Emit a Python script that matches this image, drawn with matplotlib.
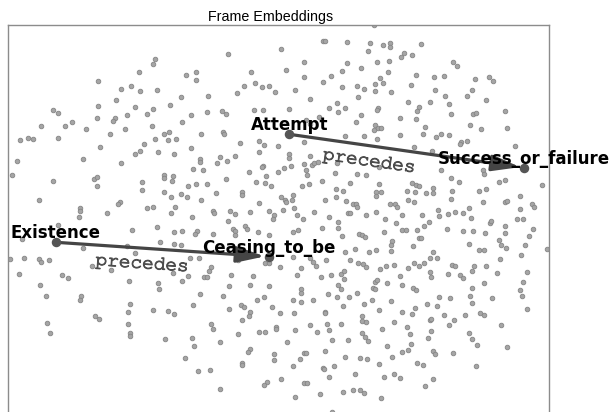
import math

import matplotlib
matplotlib.use("Agg")
import matplotlib.pyplot as plt
import matplotlib.patheffects as pe
from matplotlib import font_manager

# 2-D frame embeddings (x, y), y grows downwards as in the original projection
frame_points = [
    (228.3, 54.3), (281, 49.3), (303.7, 62), (155.3, 59.3), (152.7, 64), (139, 72.3), (98, 81),
    (185.7, 75), (196.3, 72), (195.7, 80.3), (250.7, 72.3), (286.3, 70), (304.3, 77.3),
    (120.7, 89.3), (131.3, 86), (140, 90.7), (157, 90), (181, 96.7), (208, 95.7), (237.3, 92.7),
    (244, 85.7), (254.7, 83), (262.3, 87), (269, 86.3), (274.7, 92.3), (295, 90), (116, 99.7),
    (97.7, 106), (135, 106.7), (153, 108.7), (169.7, 105.3), (53.3, 110), (58.3, 112.7),
    (288.7, 108.7), (254, 110.3), (263.3, 110), (127, 115), (115.3, 118), (112.7, 120.7),
    (97, 118.3), (146.7, 114.3), (182.3, 122), (190.7, 115.3), (207.3, 112.3), (221.7, 111),
    (225.7, 114.3), (40.7, 126), (65.3, 126), (72.3, 122.3), (86.3, 129.3), (125, 129),
    (151.7, 125.7), (110.3, 133.7), (57.7, 137.7), (20.3, 140.3), (28.3, 138.3), (33, 139.3),
    (164.3, 134.3), (169.3, 131.7), (155, 139), (175.7, 138.7), (201, 133.7), (223.3, 132.3),
    (224.3, 134.3), (144.3, 143.7), (140, 150.7), (135.3, 153.7), (100.3, 147), (167.7, 140.3),
    (191.3, 147.7), (240, 142.7), (259, 141), (263.7, 144.7), (277.7, 145.7), (304.3, 141.7),
    (158, 152.3), (174.3, 154.3), (259, 152.3), (288.7, 154), (289, 158), (216.7, 162.7),
    (220.3, 157), (227.3, 161.3), (235.3, 155.7), (200, 159.3), (200.3, 162.3), (203.3, 170.3),
    (193.3, 169), (83.3, 158.7), (17, 161), (120.7, 163), (263.3, 166), (262.3, 167.3),
    (284.3, 167.7), (291.3, 166), (277.7, 172.3), (304.3, 164.3), (249.3, 172.3), (266.3, 175.7),
    (12, 175), (164, 174.7), (164.3, 177.7), (173.3, 175.7), (171.7, 180.7), (52.7, 181),
    (94, 178.7), (97.3, 177.3), (97.3, 186.3), (142.3, 182), (142.3, 190.3), (225.7, 179),
    (255.7, 181.7), (265.3, 182.7), (270.7, 186.3), (188.3, 186), (195.7, 183.7), (207, 184.3),
    (302, 186), (38.7, 200.3), (164.3, 192.3), (170.7, 196.7), (181, 194), (186.7, 197.3),
    (200.7, 199.7), (215.7, 193.3), (242, 191.7), (242.3, 194.7), (259.3, 203), (281, 197.3),
    (285, 200), (286, 201.7), (292, 200.3), (292.7, 195), (119.7, 202), (118.3, 204),
    (373.7, 25), (322.7, 40.7), (325, 40.7), (346.7, 41.7), (370.3, 43.3), (383.3, 45),
    (390, 42.7), (390, 46.7), (421.3, 44), (367.7, 51), (403.7, 53.3), (401.3, 57.3), (412.3, 55),
    (377, 61.7), (388.7, 61), (346.7, 63.3), (452.7, 62.3), (456.7, 66.3), (361.3, 68.3),
    (341.7, 71), (387.7, 72.3), (330.7, 76), (380, 78.3), (383, 82.7), (375, 84), (416.3, 75),
    (434, 77), (444, 76.3), (489.3, 77.3), (493.3, 81.3), (475, 79.3), (323, 82), (341.7, 87.3),
    (357.3, 86), (364.3, 89.3), (375, 90.7), (390.7, 92), (411.3, 84.7), (434.7, 90), (472, 89.7),
    (358.3, 96.7), (445.3, 95.7), (467.3, 96), (486, 100.3), (310, 98.7), (336.7, 103.3),
    (329, 108), (338, 112.3), (345.3, 108), (378, 107.7), (377, 110), (408.3, 102.3),
    (419.3, 107.3), (416.7, 111), (430, 101.7), (449, 104), (504.7, 111.3), (472.7, 113.7),
    (476, 112.7), (451.3, 114), (361, 115.3), (356, 121.7), (400, 117.7), (416, 119),
    (319.3, 116.7), (306, 120), (310.3, 124.3), (375, 125.3), (374, 130), (378.3, 127.7),
    (381.3, 127.7), (425, 127), (469.7, 125), (481, 129.3), (507.3, 127.7), (345.3, 135.7),
    (364.3, 135.7), (376.7, 138.7), (399.7, 135.3), (423, 134), (435.7, 137), (440.7, 133.7),
    (448.7, 134.7), (461.3, 142.3), (466.7, 141.3), (460, 144), (515.3, 146.3), (413.7, 147),
    (432, 151), (310, 155.7), (312, 164.7), (314.3, 163.3), (306, 170), (307, 175), (318.3, 162),
    (337, 163), (335.3, 173.3), (357, 173.7), (366, 175.3), (379.3, 166.7), (441, 170.3),
    (451, 178.3), (459.3, 181.7), (482.7, 170), (483.7, 174), (498.7, 182), (504.7, 180.3),
    (321.7, 181), (309.3, 184.3), (349.7, 183), (379.3, 183.7), (411.7, 182.7), (415.7, 185),
    (419, 186), (415.3, 191.7), (406.7, 191), (425.7, 192.7), (432.7, 188), (432.7, 192.7),
    (336, 189), (343.3, 191.3), (375.7, 192), (375.7, 196), (381, 192), (542.3, 185.3),
    (519.7, 195.7), (479.3, 191.3), (486, 189.3), (451.7, 190.7), (325.3, 200), (336, 196.7),
    (346.3, 201.3), (353, 204.3), (356, 204.3), (389.7, 204), (395, 204), (407.7, 200),
    (413.7, 202), (451.3, 198.7), (483.3, 202.3), (505, 202.3), (507.3, 201), (532, 204),
    (79.7, 207.7), (79.7, 210.7), (79, 217), (107.3, 213.3), (146.7, 208.3), (152.7, 207),
    (170.7, 212.7), (174.7, 207.3), (192.3, 216.7), (213.3, 210.7), (214.3, 213), (230, 211.3),
    (235.3, 213.7), (228.3, 221.3), (249.7, 211.7), (269, 211), (274, 215.3), (272.7, 218.7),
    (283.3, 210), (294.3, 207.7), (296.7, 215), (303.3, 218.7), (132, 230), (156.7, 227),
    (174, 232.3), (182.3, 231.3), (196.7, 231.3), (195.3, 233.7), (212.7, 234.3), (233.3, 229.3),
    (235, 231.3), (235.3, 234.7), (245.3, 225.7), (247.3, 228.7), (257.7, 232), (269, 235),
    (293.3, 231.7), (298.3, 230), (57.7, 225), (22, 239), (82.7, 247.7), (127.3, 245.7),
    (160.3, 242), (174, 243.7), (135, 253), (181, 245.3), (9.7, 258.7), (24.3, 257.7),
    (39, 259.3), (41.3, 262), (49.3, 259.7), (199, 258.3), (190, 258), (92, 266.3), (110.7, 270),
    (211, 267.3), (208.7, 271.3), (204.3, 277), (207.3, 277.3), (237.7, 260.3), (265.3, 263.3),
    (268.7, 263.3), (279.7, 267), (292.7, 257), (301.3, 268), (19, 273.7), (61.7, 275),
    (67.7, 278), (172.7, 272.7), (188, 276), (182.3, 281.3), (158.3, 282.7), (158.7, 289.3),
    (128.7, 281.3), (231.3, 275.3), (252.7, 276), (297.3, 275.3), (228.7, 286.3), (249.7, 285.3),
    (269.3, 286), (301, 288.7), (301, 293.3), (39.7, 284.7), (46.3, 296), (81, 296), (79.7, 300),
    (200, 293.7), (223, 296), (256.7, 300.3), (264, 296.7), (292.7, 300.3), (301, 302),
    (130, 303.7), (193.3, 305.3), (240.7, 305), (244, 306.7), (271.7, 306.7), (94.7, 316),
    (99, 318.7), (128.3, 312), (153, 310.3), (168.3, 311.3), (173.7, 314.3), (229.3, 309.3),
    (249.7, 311.7), (249, 316), (242, 320.3), (280, 313.3), (294, 312.7), (47.3, 322.7),
    (49.7, 332.7), (128.3, 323.7), (211.3, 324.3), (212.7, 329), (259.3, 332), (265, 332),
    (276.3, 326.7), (276.3, 328.7), (295, 329.7), (238.3, 334), (130.3, 333.3), (129.7, 336),
    (164.7, 339), (191.7, 338.3), (193.7, 346.3), (220.3, 342), (286.7, 341.7), (250, 348.7),
    (248, 352.3), (274.3, 353.7), (273.7, 359.7), (304.3, 353), (185.3, 358.3), (299.7, 359.3),
    (242.3, 362.7), (241.7, 365.3), (293, 366), (198.3, 370.7), (210.3, 370), (267, 381.7),
    (264.3, 385), (280.7, 379.3), (304.3, 383.3), (219.7, 388.7), (295.3, 397.3),
    (313.7, 212), (328.7, 217.3), (338.3, 221.7), (338.3, 228.3), (347.7, 213.3), (350.3, 213),
    (357, 207), (366.3, 215), (375.7, 212.3), (397, 207), (385.3, 218.7), (396, 222.7),
    (401.7, 215.3), (422, 215.3), (429.3, 221.7), (424.3, 226.3), (417.3, 229.7), (438.3, 210.3),
    (439, 215.7), (448.3, 213.7), (454.7, 212.3), (462.7, 212.7), (469.3, 207.7), (471.3, 217.7),
    (489.7, 223.3), (491, 220.7), (505.3, 226.3), (505.3, 232.7), (517.3, 218.7), (523.3, 219.3),
    (519.7, 208.7), (534.3, 207.3), (533.3, 229), (528.7, 236.3), (525.3, 244.7), (521, 254.7),
    (547, 249.3), (322.3, 228), (341.7, 236), (359.3, 234), (361.7, 235), (365, 237.3),
    (384, 232.3), (402, 230), (405.7, 229.7), (391.7, 241.3), (391, 245.3), (391, 251),
    (419, 237.7), (420.7, 238.3), (412.7, 245.7), (433.3, 251.7), (430.3, 258.3), (437, 257.7),
    (447, 229), (463, 231.3), (473.3, 231.3), (484.7, 232.7), (468.7, 243.7), (478.7, 250),
    (484.3, 250.3), (498.7, 239.7), (501, 245), (506, 248), (500, 258.7), (310.3, 258),
    (313, 261.7), (315.7, 266), (326, 260), (345.3, 252.3), (355.3, 249.3), (350.3, 260),
    (369, 252), (376.3, 249.7), (358.3, 262.7), (362.7, 263.7), (366.3, 266.7), (380, 268.7),
    (385.7, 266), (394.3, 264.7), (408, 267.7), (414, 262.7), (419, 266), (424.3, 263.3),
    (430.3, 272), (431.3, 277), (448.3, 274.3), (452, 264.7), (455.3, 265.7), (459.7, 275),
    (463, 277.7), (471.7, 271), (474, 265.7), (486.3, 266), (497, 272.7), (321, 277.3),
    (330.7, 274.7), (340.7, 273.7), (343.7, 271.3), (344, 278.7), (338.3, 285.3), (341.3, 288.7),
    (328, 294), (313.3, 300.3), (337, 296.7), (349, 297.3), (357, 292.7), (343.3, 305.7),
    (363.7, 304.3), (371.7, 300.3), (374.7, 282), (377, 280), (372.7, 288.3), (375.3, 289),
    (387, 283), (399.7, 276), (401.7, 284.7), (413.3, 288), (416, 290.3), (391.3, 301.3),
    (378.7, 310), (439, 297), (449.7, 298), (469.7, 295.7), (472.3, 287.7), (472.3, 303.3),
    (483.7, 283.3), (491.7, 298.3), (519.7, 289.7), (522.7, 282), (522.3, 296.3), (527, 272.3),
    (527, 309.3), (426.7, 304.3), (436.7, 306.3), (415.3, 308), (412.3, 314), (401.7, 312),
    (325.3, 312), (325, 313), (310.3, 325), (327.3, 323.7), (329, 330.3), (316.7, 331.7),
    (341, 324.3), (332.3, 339.7), (348.3, 339.7), (361.7, 316), (361.7, 320.7), (366.3, 321.7),
    (361.7, 333.3), (364.7, 337), (368, 340.7), (382.3, 329.3), (394, 322), (387.3, 346),
    (406.7, 327), (410.3, 334), (411.3, 344), (408, 350.3), (402, 352), (392, 356.7),
    (429.7, 319.7), (431.3, 318.7), (431, 330.7), (427.7, 338.3), (433, 351.3), (434.7, 354.3),
    (444, 315), (448.7, 325.3), (453.7, 320.3), (464.7, 314.7), (480, 313.3), (483.7, 315.3),
    (468.7, 333.3), (472, 338.7), (477, 344.7), (501, 325.3), (506.7, 347.3), (453, 353.3),
    (325, 350.7), (306, 352.7), (345, 357), (360.3, 358.3), (367, 359.3), (379.3, 364.3),
    (417, 362.7), (422.7, 365), (476.3, 366.3), (323.3, 367.7), (323.7, 369), (334, 366.3),
    (329.3, 377), (354.7, 374), (383.7, 377), (394.3, 373.7), (400, 377.7), (432.7, 379.3),
    (424.7, 385.7), (307, 382.7), (319.7, 394), (342.7, 392), (353, 390), (360.3, 389.7),
    (363.7, 393.3), (381.3, 397.7), (332, 412),
]

node_names = ["Attempt", "Success_or_failure", "Existence", "Ceasing_to_be"]
node_x = [289.3, 524.3, 56.0, 269.0]
node_y = [134.3, 167.7, 242.3, 256.7]

relations = [
    ("Attempt", "Success_or_failure", "precedes"),
    ("Existence", "Ceasing_to_be", "precedes"),
]

installed = {f.name for f in font_manager.fontManager.ttflist}
mono = next((f for f in ["Courier New", "Nimbus Mono PS", "FreeMono", "Liberation Mono"]
             if f in installed), "DejaVu Sans Mono")

fig = plt.figure(figsize=(6.12, 4.12), dpi=100)
# the axes runs past the bottom edge of the canvas, like the cropped original
ax = fig.add_axes([8.3 / 612, -0.25, 540.6 / 612, 1 - 25 / 412 + 0.25])
ax.set_xlim(8.3, 548.9)
ax.set_ylim(515, 25)
ax.set_xticks([])
ax.set_yticks([])
for spine in ax.spines.values():
    spine.set_color("#8c8c8c")
    spine.set_linewidth(1.0)

xs, ys = zip(*frame_points)
ax.scatter(xs, ys, s=11, c="#a5a5a5", edgecolors="#858585", linewidths=0.6, zorder=2)

pos = {n: (x, y) for n, x, y in zip(node_names, node_x, node_y)}
label_at = [0.35, 0.41]  # where along each arrow the relation name sits

for (src, dst, rel), frac in zip(relations, label_at):
    x0, y0 = pos[src]
    x1, y1 = pos[dst]
    ax.annotate("", xy=(x1, y1), xytext=(x0, y0),
                arrowprops=dict(arrowstyle="-|>,head_length=0.95,head_width=0.27", mutation_scale=18,
                                color="#454545", lw=2.3, shrinkA=0, shrinkB=3),
                zorder=3)
    p0 = ax.transData.transform((x0, y0))
    p1 = ax.transData.transform((x1, y1))
    theta = math.atan2(p1[1] - p0[1], p1[0] - p0[0])
    off = 16
    ax.annotate(rel, xy=(x0 + frac * (x1 - x0), y0 + frac * (y1 - y0)),
                xytext=(off * math.sin(theta), -off * math.cos(theta)), textcoords="offset pixels",
                ha="center", va="center", rotation=math.degrees(theta), rotation_mode="anchor",
                fontsize=14, family=mono, color="#4d4d4d", zorder=3,
                path_effects=[pe.withStroke(linewidth=0.7, foreground="#4d4d4d")])

ax.scatter(node_x, node_y, s=34, c="#555555", zorder=4)
for name, x, y in zip(node_names, node_x, node_y):
    ax.annotate(name, (x, y), xytext=(0, 3), textcoords="offset points", ha="center",
                va="baseline", fontsize=12, fontweight="bold", family="DejaVu Sans",
                color="black", zorder=5)

ax.set_title("Frame Embeddings", fontsize=10.3, family="Liberation Sans", x=0.485, pad=3)

fig.savefig("out.png", dpi=100)
